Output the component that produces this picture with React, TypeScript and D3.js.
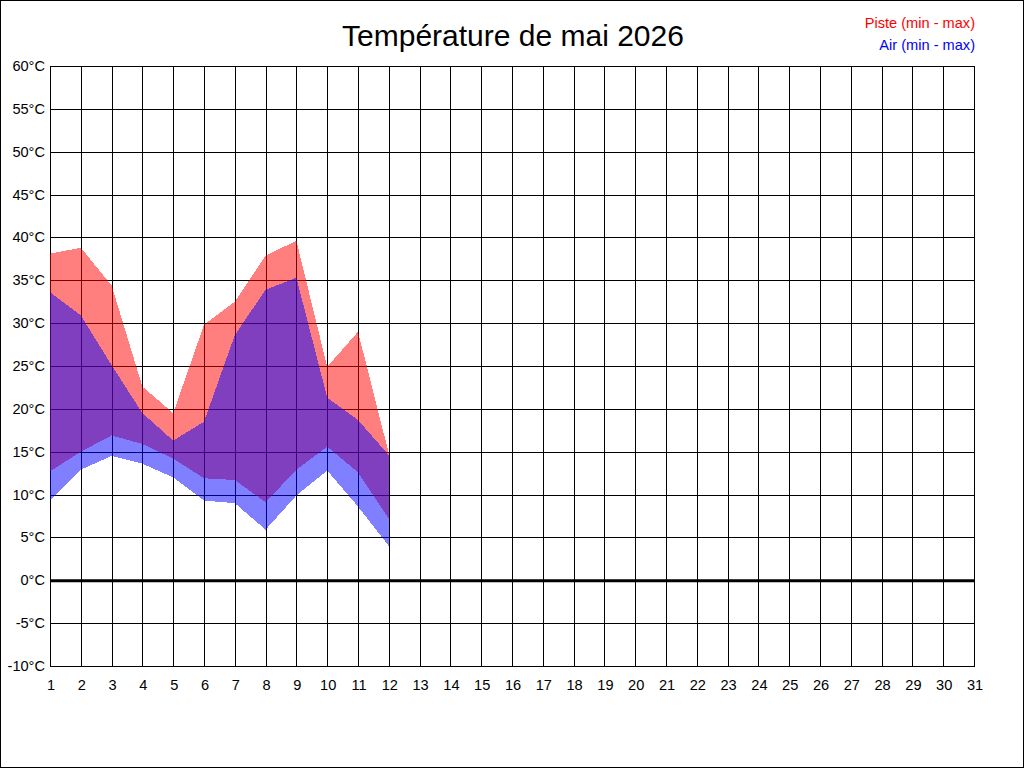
import React, { useEffect, useRef } from 'react';
import * as d3 from 'd3';

// Daily values for May 2026 (only the first 12 days are recorded)
const days = [1, 2, 3, 4, 5, 6, 7, 8, 9, 10, 11, 12];
const pisteMax = [38.1, 38.8, 34.4, 22.6, 19.5, 29.8, 32.5, 37.9, 39.6, 24.9, 29.0, 14.8];
const pisteMin = [12.7, 15.0, 16.9, 15.9, 14.2, 11.9, 11.7, 9.1, 12.9, 15.6, 12.6, 7.2];
const airMax = [33.6, 30.9, 25.1, 19.5, 16.3, 18.5, 28.6, 33.9, 35.3, 21.3, 18.7, 14.6];
const airMin = [9.3, 12.9, 14.5, 13.6, 12.0, 9.3, 9.0, 5.9, 9.9, 12.8, 8.6, 4.0];

const xTicks = d3.range(1, 32);
const yTicks = d3.range(-10, 61, 5);

const W = 1024;
const H = 768;

const Chart: React.FC = () => {
  const svgRef = useRef<SVGSVGElement>(null);

  useEffect(() => {
    if (!svgRef.current) return;
    const svg = d3.select(svgRef.current);
    svg.selectAll('*').remove();

    const x = d3.scaleLinear().domain([1, 31]).range([50, 974]);
    const y = d3.scaleLinear().domain([-10, 60]).range([666, 66]);
    const font = 'Arial, "Liberation Sans", sans-serif';
    const small = 14.6;

    svg.append('rect')
      .attr('x', 0.5).attr('y', 0.5)
      .attr('width', W - 1).attr('height', H - 1)
      .attr('fill', '#fff').attr('stroke', '#000');

    // grid
    const grid = svg.append('g').attr('stroke', '#000').attr('shape-rendering', 'crispEdges');
    grid.selectAll('line.v').data(xTicks).enter().append('line')
      .attr('x1', d => Math.round(x(d)) + 0.5).attr('x2', d => Math.round(x(d)) + 0.5)
      .attr('y1', y(60)).attr('y2', y(-10) + 1);
    grid.selectAll('line.h').data(yTicks).enter().append('line')
      .attr('x1', x(1)).attr('x2', x(31) + 1)
      .attr('y1', d => Math.round(y(d)) + 0.5).attr('y2', d => Math.round(y(d)) + 0.5);
    svg.append('line')
      .attr('x1', x(1)).attr('x2', x(31) + 1)
      .attr('y1', y(0) + 0.5).attr('y2', y(0) + 0.5)
      .attr('stroke', '#000').attr('stroke-width', 3);

    const area = (lo: number[], hi: number[]) =>
      d3.area<number>()
        .x((_, i) => x(days[i]))
        .y0((_, i) => y(lo[i]))
        .y1((_, i) => y(hi[i]))(days);

    svg.append('path').attr('d', area(pisteMin, pisteMax))
      .attr('fill', 'rgba(255,0,0,0.5)').attr('shape-rendering', 'crispEdges');
    svg.append('path').attr('d', area(airMin, airMax))
      .attr('fill', 'rgba(0,0,255,0.5)').attr('shape-rendering', 'crispEdges');

    // y labels
    svg.append('g').selectAll('text').data(yTicks).enter().append('text')
      .attr('x', 45).attr('y', d => y(d) + 5)
      .attr('text-anchor', 'end')
      .attr('font-family', font).attr('font-size', small)
      .text(d => `${d}°C`);

    // x labels
    svg.append('g').selectAll('text').data(xTicks).enter().append('text')
      .attr('x', d => x(d) + 1).attr('y', 690)
      .attr('text-anchor', 'middle')
      .attr('font-family', font).attr('font-size', small)
      .text(d => String(d));

    svg.append('text')
      .attr('x', 513).attr('y', 46)
      .attr('text-anchor', 'middle')
      .attr('font-family', font).attr('font-size', 30)
      .text('Température de mai 2026');

    svg.append('text')
      .attr('x', 975).attr('y', 28)
      .attr('text-anchor', 'end').attr('fill', '#ff0000')
      .attr('font-family', font).attr('font-size', small)
      .text('Piste (min - max)');
    svg.append('text')
      .attr('x', 975).attr('y', 50)
      .attr('text-anchor', 'end').attr('fill', '#0000ff')
      .attr('font-family', font).attr('font-size', small)
      .text('Air (min - max)');
  }, []);

  return <svg ref={svgRef} width={W} height={H} style={{ display: 'block' }} />;
};

export default function App() {
  return (
    <div style={{ position: 'fixed', left: 0, top: 0 }}>
      <Chart />
    </div>
  );
}
